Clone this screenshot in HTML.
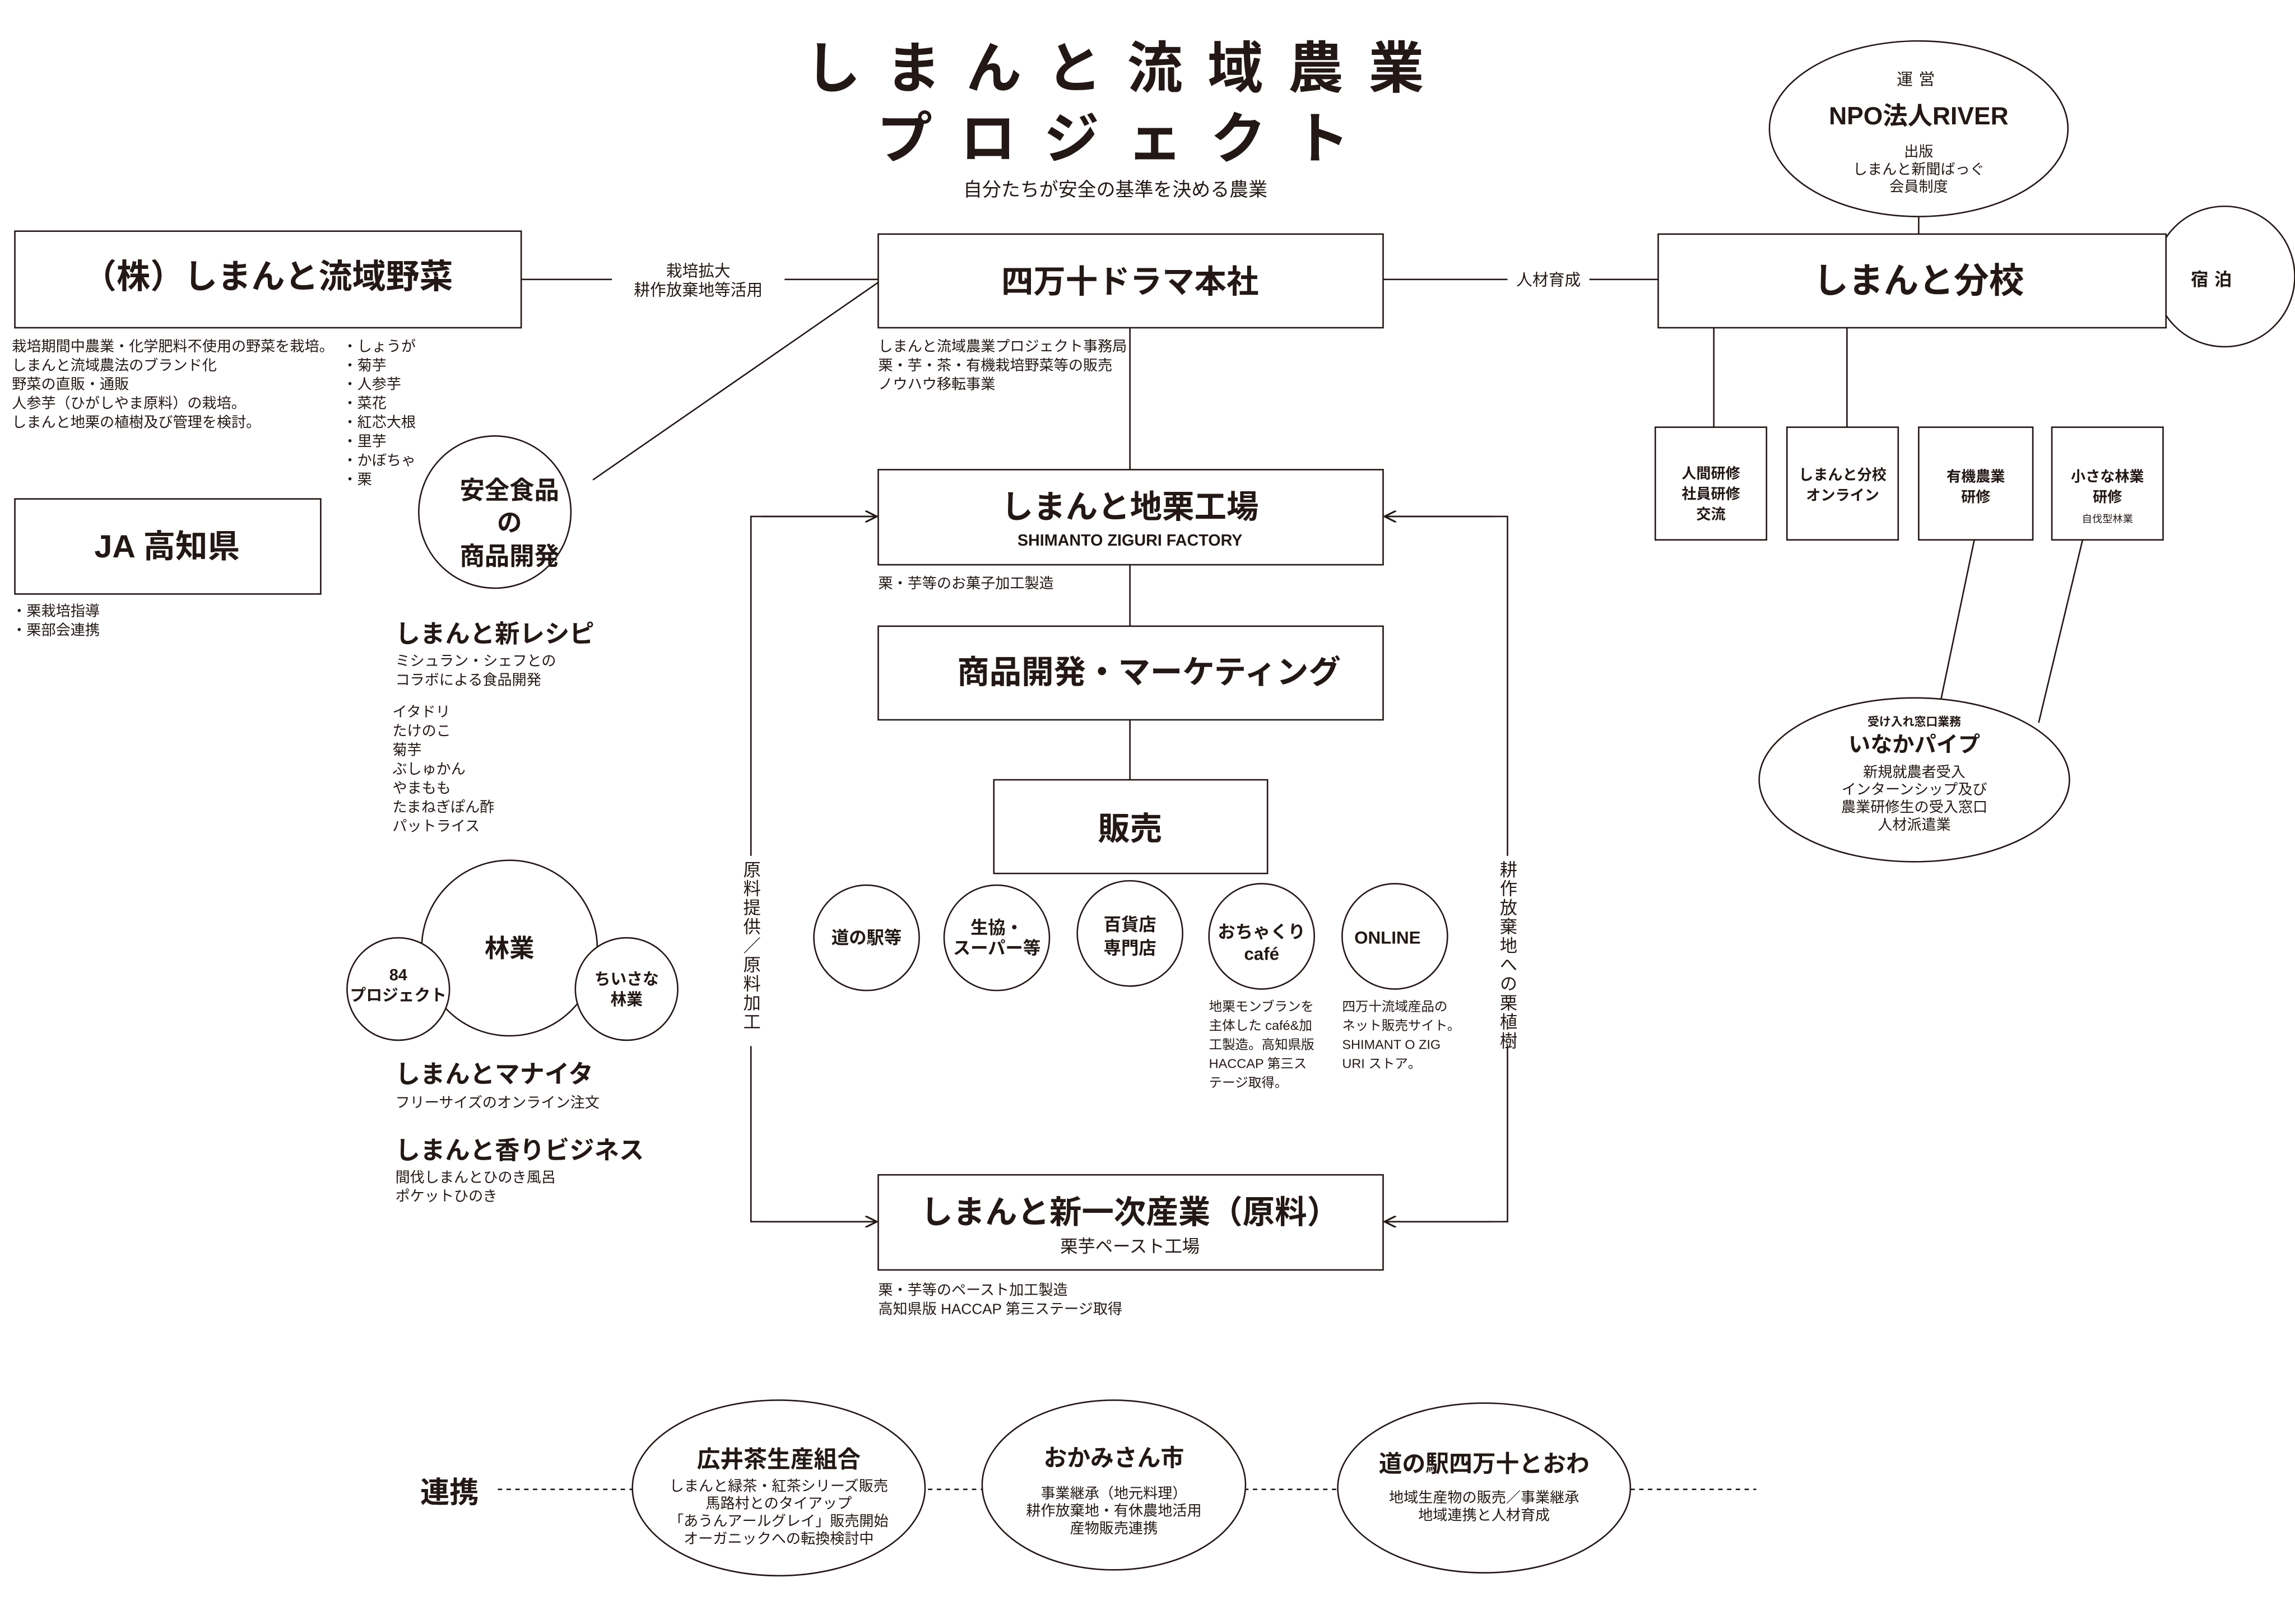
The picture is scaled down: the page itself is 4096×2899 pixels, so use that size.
<!DOCTYPE html>
<html><head><meta charset="utf-8"><style>
html,body{margin:0;padding:0;background:#fff;}
svg{display:block;}
text{font-family:"Liberation Sans","Noto Sans CJK JP",sans-serif;fill:#231815;}
.b{font-weight:bold;}
</style></head><body>
<svg width="4096" height="2899" viewBox="0 0 1568 1110" xmlns="http://www.w3.org/2000/svg">
<defs><marker id="ar" markerWidth="8" markerHeight="8" refX="7" refY="4" orient="auto" markerUnits="userSpaceOnUse"><path d="M0,0 L8,4 L0,8" fill="none" stroke="#231815" stroke-width="1.2"/></marker></defs>
<text x="770" y="60" font-size="38" class="b" text-anchor="middle" letter-spacing="17">しまんと流域農業</text>
<text x="770" y="108" font-size="38" class="b" text-anchor="middle" letter-spacing="19">プロジェクト</text>
<text x="762" y="134" font-size="13" text-anchor="middle">自分たちが安全の基準を決める農業</text>

<g stroke="#231815" stroke-width="1" fill="#fff">
<circle cx="1520" cy="189" r="48"/>
<line x1="356" y1="191" x2="600" y2="191"/>
<line x1="945" y1="191" x2="1133" y2="191"/>
<line x1="600" y1="193" x2="405" y2="328"/>
<line x1="1311" y1="148" x2="1311" y2="160"/>
<line x1="772" y1="224" x2="772" y2="321"/>
<line x1="772" y1="386" x2="772" y2="428"/>
<line x1="772" y1="492" x2="772" y2="533"/>
<line x1="1171" y1="224" x2="1171" y2="292"/>
<line x1="1262" y1="224" x2="1262" y2="292"/>
<line x1="1349" y1="369" x2="1325" y2="484"/>
<line x1="1423" y1="369" x2="1393" y2="494"/>
<rect x="10" y="158" width="346" height="66"/>
<rect x="600" y="160" width="345" height="64"/>
<rect x="1133" y="160" width="347" height="64"/>
<ellipse cx="1311" cy="88" rx="102" ry="60"/>
<rect x="10" y="341" width="209" height="65"/>
<circle cx="338" cy="350" r="52"/>
<rect x="600" y="321" width="345" height="65"/>
<rect x="600" y="428" width="345" height="64"/>
<rect x="679" y="533" width="187" height="64"/>
<circle cx="592" cy="641" r="36"/>
<circle cx="681" cy="641" r="36"/>
<circle cx="772" cy="638" r="36"/>
<circle cx="862" cy="640" r="36"/>
<circle cx="953" cy="640" r="36"/>
<rect x="600" y="803" width="345" height="65"/>
<circle cx="348" cy="648" r="60"/>
<circle cx="272" cy="676" r="35"/>
<circle cx="428" cy="676" r="35"/>
<rect x="1131" y="292" width="76" height="77"/>
<rect x="1221" y="292" width="76" height="77"/>
<rect x="1311" y="292" width="78" height="77"/>
<rect x="1402" y="292" width="76" height="77"/>
<ellipse cx="1308" cy="533" rx="106" ry="56"/>
<line x1="340" y1="1018" x2="1200" y2="1018" stroke-dasharray="3,3"/>
<ellipse cx="532" cy="1017" rx="100" ry="60"/>
<ellipse cx="761" cy="1015" rx="90" ry="58"/>
<ellipse cx="1014" cy="1017" rx="100" ry="58"/>
</g>
<g stroke="#231815" stroke-width="1" fill="none">
<polyline points="600,353 513,353 513,835 600,835" />
<line x1="520" y1="353" x2="598" y2="353" marker-end="url(#ar)"/>
<line x1="520" y1="835" x2="598" y2="835" marker-end="url(#ar)"/>
<polyline points="945,353 1030,353 1030,835 945,835"/>
<line x1="1020" y1="353" x2="947" y2="353" marker-end="url(#ar)"/>
<line x1="1020" y1="835" x2="947" y2="835" marker-end="url(#ar)"/>
</g>
<rect x="418" y="176" width="118" height="30" fill="#fff"/>
<rect x="1030" y="182" width="56" height="18" fill="#fff"/>
<rect x="504" y="585" width="18" height="130" fill="#fff"/>
<rect x="1021" y="585" width="18" height="130" fill="#fff"/>
<text x="477" y="189" font-size="11" text-anchor="middle">栽培拡大</text>
<text x="477" y="202" font-size="11" text-anchor="middle">耕作放棄地等活用</text>
<text x="1058" y="195" font-size="11" text-anchor="middle">人材育成</text>
<text font-size="12" writing-mode="tb" x="513" y="588" letter-spacing="1">原料提供／原料加工</text>
<text font-size="12" writing-mode="tb" x="1030" y="588" letter-spacing="1">耕作放棄地への栗植樹</text>

<text x="183" y="197" font-size="23" class="b" text-anchor="middle">（株）しまんと流域野菜</text>
<text x="772" y="200" font-size="22" class="b" text-anchor="middle">四万十ドラマ本社</text>
<text x="1311" y="200" font-size="24" class="b" text-anchor="middle">しまんと分校</text>
<text x="1513" y="195" font-size="12" class="b" text-anchor="middle" letter-spacing="4">宿泊</text>
<text x="1311" y="58" font-size="11" text-anchor="middle" letter-spacing="4">運営</text>
<text x="1311" y="85" font-size="17" class="b" text-anchor="middle">NPO法人RIVER</text>
<g font-size="10" text-anchor="middle"><text x="1311" y="107">出版</text><text x="1311" y="119">しまんと新聞ばっぐ</text><text x="1311" y="131">会員制度</text></g>
<g font-size="10"><text x="8" y="240">栽培期間中農業・化学肥料不使用の野菜を栽培。</text><text x="8" y="253">しまんと流域農法のブランド化</text><text x="8" y="266">野菜の直販・通販</text><text x="8" y="279">人参芋（ひがしやま原料）の栽培。</text><text x="8" y="292">しまんと地栗の植樹及び管理を検討。</text>
<text x="234" y="240">・しょうが</text><text x="234" y="253">・菊芋</text><text x="234" y="266">・人参芋</text><text x="234" y="279">・菜花</text><text x="234" y="292">・紅芯大根</text><text x="234" y="305">・里芋</text><text x="234" y="318">・かぼちゃ</text><text x="234" y="331">・栗</text>
<text x="8" y="421">・栗栽培指導</text><text x="8" y="434">・栗部会連携</text>
<text x="600" y="240">しまんと流域農業プロジェクト事務局</text><text x="600" y="253">栗・芋・茶・有機栽培野菜等の販売</text><text x="600" y="266">ノウハウ移転事業</text>
<text x="600" y="402">栗・芋等のお菓子加工製造</text>
<text x="600" y="885">栗・芋等のペースト加工製造</text><text x="600" y="898">高知県版 HACCAP 第三ステージ取得</text>
<text x="270" y="455">ミシュラン・シェフとの</text><text x="270" y="468">コラボによる食品開発</text>
<text x="268" y="490">イタドリ</text><text x="268" y="503">たけのこ</text><text x="268" y="516">菊芋</text><text x="268" y="529">ぶしゅかん</text><text x="268" y="542">やまもも</text><text x="268" y="555">たまねぎぽん酢</text><text x="268" y="568">パットライス</text>
<text x="270" y="757">フリーサイズのオンライン注文</text>
<text x="270" y="808">間伐しまんとひのき風呂</text><text x="270" y="821">ポケットひのき</text>
</g>
<g font-size="9"><text x="826" y="691">地栗モンブランを</text><text x="826" y="704">主体した café&amp;加</text><text x="826" y="717">工製造。高知県版</text><text x="826" y="730">HACCAP 第三ス</text><text x="826" y="743">テージ取得。</text>
<text x="917" y="691">四万十流域産品の</text><text x="917" y="704">ネット販売サイト。</text><text x="917" y="717">SHIMANT O ZIG</text><text x="917" y="730">URI ストア。</text></g>
<text x="114" y="381" font-size="22" class="b" text-anchor="middle">JA 高知県</text>
<g font-size="17" class="b" text-anchor="middle"><text x="348" y="341">安全食品</text><text x="348" y="363">の</text><text x="348" y="386">商品開発</text></g>
<text x="270" y="439" font-size="17" class="b">しまんと新レシピ</text>
<text x="270" y="740" font-size="17" class="b">しまんとマナイタ</text>
<text x="270" y="792" font-size="17" class="b">しまんと香りビジネス</text>
<text x="348" y="654" font-size="17" class="b" text-anchor="middle">林業</text>
<g font-size="11" class="b" text-anchor="middle"><text x="272" y="670">84</text><text x="272" y="684">プロジェクト</text><text x="428" y="673">ちいさな</text><text x="428" y="687">林業</text></g>
<text x="772" y="354" font-size="22" class="b" text-anchor="middle">しまんと地栗工場</text>
<text x="772" y="373" font-size="11" class="b" text-anchor="middle">SHIMANTO ZIGURI FACTORY</text>
<text x="785" y="467" font-size="22" class="b" text-anchor="middle">商品開発・マーケティング</text>
<text x="772" y="574" font-size="22" class="b" text-anchor="middle">販売</text>
<text x="772" y="836" font-size="22" class="b" text-anchor="middle">しまんと新一次産業（原料）</text>
<text x="772" y="856" font-size="12" text-anchor="middle">栗芋ペースト工場</text>
<g font-size="12" class="b" text-anchor="middle"><text x="592" y="645">道の駅等</text><text x="681" y="638">生協・</text><text x="681" y="652">スーパー等</text><text x="772" y="636">百貨店</text><text x="772" y="652">専門店</text><text x="862" y="641">おちゃくり</text><text x="862" y="656">café</text><text x="948" y="645">ONLINE</text></g>
<g font-size="10" class="b" text-anchor="middle"><text x="1169" y="327">人間研修</text><text x="1169" y="341">社員研修</text><text x="1169" y="355">交流</text><text x="1259" y="328">しまんと分校</text><text x="1259" y="342">オンライン</text><text x="1350" y="329">有機農業</text><text x="1350" y="343">研修</text><text x="1440" y="329">小さな林業</text><text x="1440" y="343">研修</text></g>
<text x="1440" y="357" font-size="7" text-anchor="middle">自伐型林業</text>
<text x="1308" y="496" font-size="8" class="b" text-anchor="middle">受け入れ窓口業務</text>
<text x="1308" y="514" font-size="15" class="b" text-anchor="middle">いなかパイプ</text>
<g font-size="10" text-anchor="middle"><text x="1308" y="531">新規就農者受入</text><text x="1308" y="543">インターンシップ及び</text><text x="1308" y="555">農業研修生の受入窓口</text><text x="1308" y="567">人材派遣業</text></g>
<text x="307" y="1027" font-size="20" class="b" text-anchor="middle">連携</text>
<text x="532" y="1003" font-size="16" class="b" text-anchor="middle">広井茶生産組合</text>
<g font-size="10" text-anchor="middle"><text x="532" y="1019">しまんと緑茶・紅茶シリーズ販売</text><text x="532" y="1031">馬路村とのタイアップ</text><text x="532" y="1043">「あうんアールグレイ」販売開始</text><text x="532" y="1055">オーガニックへの転換検討中</text>
<text x="761" y="1024">事業継承（地元料理）</text><text x="761" y="1036">耕作放棄地・有休農地活用</text><text x="761" y="1048">産物販売連携</text>
<text x="1014" y="1027">地域生産物の販売／事業継承</text><text x="1014" y="1039">地域連携と人材育成</text></g>
<text x="761" y="1002" font-size="16" class="b" text-anchor="middle">おかみさん市</text>
<text x="1014" y="1006" font-size="16" class="b" text-anchor="middle">道の駅四万十とおわ</text>
</svg>
</body></html>
